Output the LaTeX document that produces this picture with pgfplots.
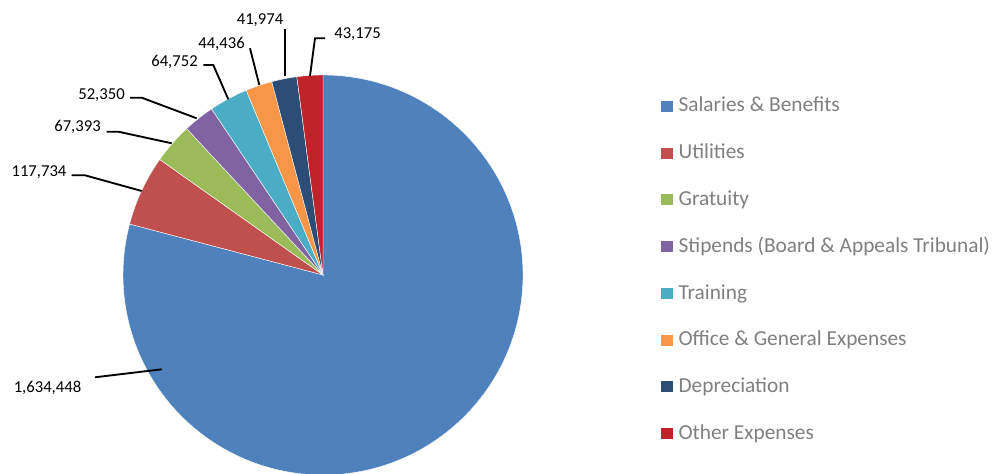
\documentclass[border=0pt]{standalone}
\usepackage{pgfplots}
\pgfplotsset{compat=1.18}
\usepackage{fontspec}
\setmainfont{Carlito}

\definecolor{cSal}{HTML}{4F81BD}
\definecolor{cUti}{HTML}{C0504D}
\definecolor{cGra}{HTML}{9BBB59}
\definecolor{cSti}{HTML}{8064A2}
\definecolor{cTra}{HTML}{4BACC6}
\definecolor{cOff}{HTML}{F79646}
\definecolor{cDep}{HTML}{2C4D75}
\definecolor{cOth}{HTML}{C0232A}
\definecolor{legtext}{HTML}{7F7F7F}

% expense values
\def\vSal{1634448}
\def\vUti{117734}
\def\vGra{67393}
\def\vSti{52350}
\def\vTra{64752}
\def\vOff{44436}
\def\vDep{41974}
\def\vOth{43175}
\edef\total{\fpeval{\vSal+\vUti+\vGra+\vSti+\vTra+\vOff+\vDep+\vOth}}
% cumulative angles, clockwise from 12 o'clock
\edef\aA{90}
\edef\aB{\fpeval{\aA-360*\vSal/\total}}
\edef\aC{\fpeval{\aB-360*\vUti/\total}}
\edef\aD{\fpeval{\aC-360*\vGra/\total}}
\edef\aE{\fpeval{\aD-360*\vSti/\total}}
\edef\aF{\fpeval{\aE-360*\vTra/\total}}
\edef\aG{\fpeval{\aF-360*\vOff/\total}}
\edef\aH{\fpeval{\aG-360*\vDep/\total}}
\edef\aI{\fpeval{\aH-360*\vOth/\total}}

% pie centre / radius in px units (y measured from the bottom)
\def\cx{323}
\def\cy{199}
\newcommand\slice[3]{%
  \fill[#3, draw=white, line width=0.3pt] (axis cs:\cx,\cy) -- (axis cs:{\cx+200*cos(#1)},{\cy+200*sin(#1)})
    arc[start angle=#1, end angle=#2, radius=150pt] -- cycle;}
\newcommand\leg[3]{% baseline px, colour, text
  \fill[#2] (axis cs:661.3,{474-#1}) rectangle (axis cs:672.7,{474-#1+11});
  \node[anchor=base west, inner sep=0pt, font=\fontsize{16}{19}\selectfont, text=legtext]
    at (axis cs:678.3,{474-#1}) {#3};}
\newcommand\lbl[3]{% x, baseline px, text
  \node[anchor=base, inner sep=0pt, font=\fontsize{12.5}{15}\selectfont] at (axis cs:#1,{474-#2}) {#3};}

\begin{document}
\begin{tikzpicture}
\begin{axis}[scale only axis, width=744pt, height=355.5pt,
  xmin=0, xmax=992, ymin=0, ymax=474, hide axis, clip=true]
\path[draw=none] (rel axis cs:0,0) rectangle (rel axis cs:1,1);
\slice{\aA}{\aB}{cSal}
\slice{\aB}{\aC}{cUti}
\slice{\aC}{\aD}{cGra}
\slice{\aD}{\aE}{cSti}
\slice{\aE}{\aF}{cTra}
\slice{\aF}{\aG}{cOff}
\slice{\aG}{\aH}{cDep}
\slice{\aH}{\aI}{cOth}

% leader lines
\draw[black, line width=1.4pt] (axis cs:95,{474-377.3}) -- (axis cs:161.7,{474-369.3});
\draw[black, line width=1.4pt] (axis cs:71.7,{474-175.3}) -- (axis cs:85,{474-175.3}) -- (axis cs:141.7,{474-191});
\draw[black, line width=1.4pt] (axis cs:106.7,{474-131.7}) -- (axis cs:118.3,{474-131.7}) -- (axis cs:171.7,{474-143.3});
\draw[black, line width=1.4pt] (axis cs:130,{474-97.7}) -- (axis cs:141.7,{474-97.7}) -- (axis cs:196.7,{474-118.3});
\draw[black, line width=1.4pt] (axis cs:203.3,{474-65}) -- (axis cs:213.3,{474-65}) -- (axis cs:228.3,{474-99.3});
\draw[black, line width=1.4pt] (axis cs:250,{474-48.3}) -- (axis cs:259.3,{474-85});
\draw[black, line width=1.4pt] (axis cs:285,{474-29.3}) -- (axis cs:285,{474-76});
\draw[black, line width=1.4pt] (axis cs:325,{474-38.3}) -- (axis cs:315,{474-38.3}) -- (axis cs:310,{474-76});

% value labels
\lbl{47.5}{392.3}{1,634,448}
\lbl{39}{176.7}{117,734}
\lbl{77.5}{131.7}{67,393}
\lbl{101.5}{99.3}{52,350}
\lbl{174.5}{66.7}{64,752}
\lbl{221.5}{49}{44,436}
\lbl{260}{24.3}{41,974}
\lbl{357.5}{39}{43,175}

% legend
\leg{111.7}{cSal}{Salaries \& Benefits}
\leg{158.7}{cUti}{Utilities}
\leg{205.5}{cGra}{Gratuity}
\leg{252.5}{cSti}{Stipends (Board \& Appeals Tribunal)}
\leg{299.3}{cTra}{Training}
\leg{346}{cOff}{Office \& General Expenses}
\leg{392.5}{cDep}{Depreciation}
\leg{439.3}{cOth}{Other Expenses}
\end{axis}
\end{tikzpicture}
\end{document}
